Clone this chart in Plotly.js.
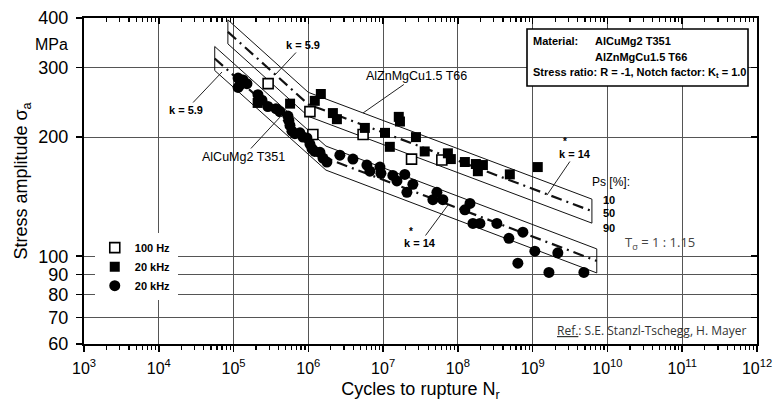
<!DOCTYPE html>
<html><head><meta charset="utf-8">
<script src="https://cdn.plot.ly/plotly-3.0.1.min.js"></script>
<style>html,body{margin:0;padding:0;background:#fff}</style>
</head><body><div id="chart" style="width:773px;height:407px"></div>
<script>
// ---- tick labels ----
const xTickVals = [1e3,1e4,1e5,1e6,1e7,1e8,1e9,1e10,1e11,1e12];
const xTickText = ['10<sup>3</sup>','10<sup>4</sup>','10<sup>5</sup>','10<sup>6</sup>','10<sup>7</sup>','10<sup>8</sup>','10<sup>9</sup>','10<sup>10</sup>','10<sup>11</sup>','10<sup>12</sup>'];
const yTickVals = [60,70,80,90,100,200,300,400];
const yTickText = ['60','70','80','90','100','200','300','400'];

// ---- series: 100 Hz (open squares, AlZnMgCu1.5 T66) ----
const sq100N = [2.9e5, 1.05e6, 1.15e6, 5.4e6, 2.4e7, 6.1e7];
const sq100S = [273, 232, 203, 203, 176, 175];

// ---- series: 20 kHz (filled squares, AlZnMgCu1.5 T66) ----
const sq20kN = [2.1e5, 5.7e5, 1.22e6, 1.47e6, 2.13e6, 2.41e6, 5.7e6, 1.06e7, 1.23e7, 1.62e7, 1.68e7, 2.75e7, 3.6e7, 7.35e7, 8.05e7, 1.24e8, 1.74e8, 1.85e8, 2.16e8, 4.95e8, 1.17e9];
const sq20kS = [244, 243, 247, 257, 230, 222, 211, 205, 189, 225, 219, 200, 184, 182, 176, 173, 171, 164, 170, 161, 168];

// ---- series: 20 kHz (filled circles, AlCuMg2 T351) ----
const ci20kN = [1.15e5,1.34e5,1.51e5,1.22e5,1.15e5,2.12e5,2.4e5,2.88e5,3.69e5,4.17e5,5.34e5,5.5e5,5.68e5,6.04e5,6.62e5,7.72e5,8.47e5,9.58e5,1.05e6,1.12e6,1.22e6,1.43e6,1.57e6,1.77e6,2.64e6,3.95e6,6.07e6,6.66e6,9.07e6,9.35e6,1.35e7,1.53e7,1.95e7,2.5e7,2.08e7,5.24e7,4.63e7,6.3e7,1.24e8,1.45e8,1.59e8,1.97e8,3.32e8,4.81e8,7.4e8,1.07e9,2.17e9,6.34e8,1.65e9,4.84e9];
const ci20kS = [282,279,273,271,267,256,248,239,236,232,226,220,214,207,204,205,200,199,192,187,184,183,177,173,180,176,170,164,168,162,160,155,161,152,145,145,139,139,131,136,121,121,121,111,115,103,102,96,91,91];

// ---- scatter bands: 50 % lines (start, knee, end) and scatter T ----
const bandZnN = [8.4e4, 1.0e6, 6.2e9];
const bandZnS = [369, 242, 130];
const bandCuN = [5.6e4, 1.72e6, 7.2e9];
const bandCuS = [316, 177, 97.3];
const scatterT = 1.15;

function bandOutline(N, S) {
  const f = Math.sqrt(scatterT);
  const up = S.map(s => s * f), lo = S.map(s => s / f);
  return {
    x: N.concat(N.slice().reverse(), [N[0]]),
    y: up.concat(lo.slice().reverse(), [up[0]])
  };
}

const traces = [];
[[bandZnN, bandZnS], [bandCuN, bandCuS]].forEach(([N, S]) => {
  const o = bandOutline(N, S);
  traces.push({x: o.x, y: o.y, mode: 'lines', line: {color: '#111', width: 1}, showlegend: false, hoverinfo: 'skip'});
  traces.push({x: N, y: S, mode: 'lines', line: {color: '#111', width: 2.2, dash: '11px,5px,2px,5px'}, showlegend: false, hoverinfo: 'skip'});
});

traces.push({name: '100 Hz', x: sq100N, y: sq100S, mode: 'markers', xaxis: 'x2', yaxis: 'y2',
  marker: {symbol: 'square', size: 10, color: '#fff', line: {color: '#000', width: 1.6}}});
traces.push({name: '20 kHz', x: sq20kN, y: sq20kS, mode: 'markers', xaxis: 'x2', yaxis: 'y2',
  marker: {symbol: 'square', size: 10, color: '#000'}});
traces.push({name: '20 kHz ', x: ci20kN, y: ci20kS, mode: 'markers', xaxis: 'x2', yaxis: 'y2',
  marker: {symbol: 'circle', size: 11, color: '#000'}});

const L = 84, R = 757, T = 18, B = 344;
const PX = x => (x - L) / (R - L);
const PY = y => (B - y) / (B - T);

const ARIAL = 'Liberation Sans, Arial, sans-serif';
const OPEN = 'Open Sans, Segoe UI, sans-serif';
const bold11 = {family: ARIAL, size: 11, color: '#000'};
const star10 = {family: ARIAL, size: 10, color: '#000'};

function lead(text, tipX, tipY, ax, ay, font) {
  return {xref: 'paper', yref: 'paper', x: PX(tipX), y: PY(tipY), text: text, showarrow: true,
    arrowhead: 0, arrowwidth: 1, arrowcolor: '#222', ax: ax, ay: ay, standoff: 0, font: font || bold11};
}
function lbl(text, x, y, font, xanchor) {
  return {xref: 'paper', yref: 'paper', x: PX(x), y: PY(y), text: text, showarrow: false,
    xanchor: xanchor || 'center', yanchor: 'middle', font: font || bold11};
}

const annotations = [
  lead('<b>k = 5.9</b>', 222, 72, -36, 38),
  lead('<b>k = 5.9</b>', 275, 75, 28, -30),
  lead('AlZnMgCu1.5 T66', 363, 113, 53, -37, {family: ARIAL, size: 12.5, color: '#000'}),
  lead('AlCuMg2 T351', 282, 115, -39, 42, {family: ARIAL, size: 12.5, color: '#000'}),
  lead('<b>k = 14</b>', 547, 195, 28, -41),
  lbl('<b>*</b>', 565, 141, star10),
  lead('<b>k = 14</b>', 448, 205, -28, 38),
  lbl('<b>*</b>', 411, 231, star10),
  lbl('Ps [%]:', 590, 182, {family: ARIAL, size: 12, color: '#000'}, 'left'),
  lbl('<b>10</b>', 609, 200),
  lbl('<b>50</b>', 609, 213),
  lbl('<b>90</b>', 609, 228),
  lbl('T<sub>σ</sub> = 1 : 1.15', 660, 243, {family: OPEN, size: 13, color: '#444'}),
  lbl('<span style="text-decoration:underline">Ref.</span>: S.E. Stanzl-Tschegg, H. Mayer', 748, 330, {family: OPEN, size: 12, color: '#333'}, 'right'),
  {xref: 'paper', yref: 'paper', x: -14/673, y: PY(45), text: 'MPa', showarrow: false, xanchor: 'right', yanchor: 'middle', font: {family: ARIAL, size: 16, color: '#000'}},
  lbl('<b>Material:</b>', 531, 41, bold11, 'left'),
  lbl('<b>AlCuMg2 T351</b>', 593, 41, bold11, 'left'),
  lbl('<b>AlZnMgCu1.5 T66</b>', 593, 57, bold11, 'left'),
  lbl('<b>Stress ratio: R = -1, Notch factor: K<sub>t</sub> = 1.0</b>', 531, 73, bold11, 'left')
];

const shapes = [
  {type: 'rect', xref: 'paper', yref: 'paper', x0: PX(527), x1: PX(748), y0: PY(29), y1: PY(86),
   fillcolor: '#fff', line: {color: '#000', width: 1.6}, layer: 'above'}
];

const gridC = '#555';
const layout = {
  width: 773, height: 407,
  margin: {l: L, r: 773 - R, t: T, b: 407 - B},
  paper_bgcolor: '#fff', plot_bgcolor: '#fff',
  showlegend: true,
  legend: {x: 0.016, y: 0.34, xanchor: 'left', yanchor: 'top', bgcolor: '#fff', borderwidth: 0,
    font: {family: ARIAL, size: 11, color: '#000', weight: 'bold'}, tracegroupgap: 0},
  xaxis: {type: 'log', range: [3, 12], tickmode: 'array', tickvals: xTickVals, ticktext: xTickText,
    ticks: 'outside', ticklen: 6, tickwidth: 1.5, tickcolor: '#000', ticklabelstandoff: 3,
    minor: {tickmode: 'linear', dtick: 'D1', ticks: 'outside', ticklen: 4, tickwidth: 1.2, tickcolor: '#000', showgrid: false},
    showgrid: true, gridcolor: gridC, gridwidth: 1, showline: true, linecolor: '#000', linewidth: 2, zeroline: false,
    tickfont: {family: ARIAL, size: 16, color: '#000'},
    title: {text: 'Cycles to rupture N<sub>r</sub>', font: {family: ARIAL, size: 18, color: '#000'}, standoff: 6}},
  yaxis: {type: 'log', range: [Math.log10(60), Math.log10(400)], tickmode: 'array', tickvals: yTickVals, ticktext: yTickText,
    ticks: 'outside', ticklen: 6, tickwidth: 1.5, tickcolor: '#000', ticklabelstandoff: 4,
    showgrid: true, gridcolor: gridC, gridwidth: 1, showline: true, linecolor: '#000', linewidth: 2, zeroline: false,
    tickfont: {family: ARIAL, size: 18, color: '#000'},
    title: {text: 'Stress amplitude σ<sub>a</sub>', font: {family: ARIAL, size: 18, color: '#000'}, standoff: 6}},
  xaxis2: {type: 'log', range: [3, 12], overlaying: 'x', side: 'top', anchor: 'y2', tickmode: 'array', tickvals: xTickVals,
    showticklabels: false, ticks: 'inside', ticklen: 6, tickwidth: 1.5, tickcolor: '#000',
    minor: {tickmode: 'linear', dtick: 'D1', ticks: 'inside', ticklen: 4, tickwidth: 1.2, tickcolor: '#000', showgrid: false},
    showgrid: false, showline: true, linecolor: '#000', linewidth: 2, zeroline: false},
  yaxis2: {type: 'log', range: [Math.log10(60), Math.log10(400)], overlaying: 'y', side: 'right', anchor: 'x2', tickmode: 'array', tickvals: yTickVals,
    showticklabels: false, ticks: 'inside', ticklen: 6, tickwidth: 1.5, tickcolor: '#000',
    showgrid: false, showline: true, linecolor: '#000', linewidth: 2, zeroline: false},
  annotations: annotations,
  shapes: shapes
};

Plotly.newPlot('chart', traces, layout, {displayModeBar: false, staticPlot: true});
</script>
</body></html>
